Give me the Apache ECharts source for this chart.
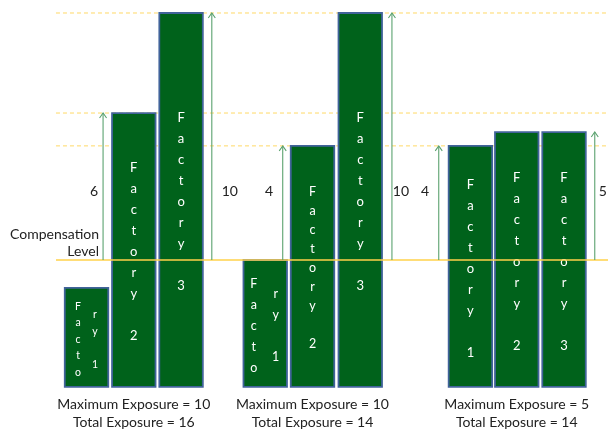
<!DOCTYPE html>
<html>
<head>
<meta charset="utf-8">
<script src="https://cdn.jsdelivr.net/npm/echarts@6/dist/echarts.min.js"></script>
<style>
  html, body { margin: 0; background: #fff; }
  #chart { width: 608px; height: 433px; }
</style>
</head>
<body>
<div id="chart"></div>
<script>
// bars: slot position, top level (relative to the compensation level), text columns
const barX = [1.0, 2.0, 3.0, 4.78, 5.78, 6.79, 9.12, 10.1, 11.1]
const barTop = [-1.13, 5.95, 10, 0, 4.62, 10, 4.62, 5.18, 5.18]
const barText = [
  ['Facto', 'ry 1'], ['Factory 2'], ['Factory 3'],
  ['Facto', 'ry 1'], ['Factory 2'], ['Factory 3'],
  ['Factory 1'], ['Factory 2'], ['Factory 3'],
]
const baseLevel = -5.14
const compLevel = 0

// exposure arrows (from the compensation level up)
const arrowX = [1.35, 3.65, 5.15, 7.46, 8.45, 11.75]
const arrowTop = [5.95, 10, 4.62, 10, 4.62, 5.18]
const arrowLabels = ['6', '10', '4', '10', '4', '5']
const arrowLabelX = [1.16, 4.03, 4.86, 7.65, 8.16, 11.92]

const levelLines = [10, 5.95, 4.62]

// group captions
const groupX = [2.0, 5.78, 10.1]
const maxExposure = [10, 10, 5]
const totalExposure = [16, 14, 14]

// layout / style bits (not data)
const FONT = 'Lato, "Open Sans", sans-serif'
const barFont = [10.5, 13, 13, 12.5, 12.5, 13, 13, 13, 13]
const barLine = [16.5, 21, 21, 21, 19, 21, 21, 21, 21]
const colOffset = { 0: [-8.5, 8.5], 3: [-11.5, 10.5] }
const lineStartX = 0.354
const lineEndX = 12.03
const arrowLabelY = 2.79
const captionY = -6.23
const compLabelX = 1.264

const chart = echarts.init(document.getElementById('chart'), null, { renderer: 'canvas' })

const letters = (s) => s.split('').map((c) => (c === ' ' ? '' : c)).join('\n')

chart.setOption({
  backgroundColor: '#fff',
  animation: false,
  grid: { left: 0, right: 0, top: 0, bottom: 0 },
  xAxis: { type: 'value', min: -0.83, max: 12.03, show: false },
  yAxis: { type: 'value', min: -7.004, max: 10.526, show: false },
  series: [
    // dashed level lines (behind bars)
    {
      type: 'custom', z: 1,
      data: levelLines.map((v) => [v]),
      renderItem: (params, api) => {
        const a = api.coord([lineStartX, api.value(0)])
        const b = api.coord([lineEndX, api.value(0)])
        return {
          type: 'line',
          shape: { x1: a[0], y1: a[1], x2: b[0], y2: b[1] },
          style: { stroke: '#FFD966', lineWidth: 1, lineDash: [4, 3] },
        }
      },
    },
    // bars
    {
      type: 'custom', z: 2,
      data: barX.map((x, i) => [x, barTop[i], i]),
      renderItem: (params, api) => {
        const i = api.value(2)
        const p0 = api.coord([api.value(0), baseLevel])
        const p1 = api.coord([api.value(0), api.value(1)])
        const w = api.size([0.92, 0])[0]
        const cy = (p0[1] + p1[1]) / 2 + 2
        const cols = barText[i]
        const offs = colOffset[i] || [0]
        const children = [{
          type: 'rect',
          shape: { x: p0[0] - w / 2, y: p1[1], width: w, height: p0[1] - p1[1] },
          style: { fill: '#00621B', stroke: '#41639A', lineWidth: 1.8 },
        }]
        cols.forEach((t, k) => {
          children.push({
            type: 'text',
            style: {
              text: letters(t), x: p0[0] + offs[k], y: cy,
              fill: '#FFFFFF', fontSize: barFont[i], fontFamily: FONT,
              lineHeight: barLine[i], align: 'center', verticalAlign: 'middle',
            },
          })
        })
        return { type: 'group', children }
      },
    },
    // compensation line (on top)
    {
      type: 'custom', z: 3,
      data: [[compLevel]],
      renderItem: (params, api) => {
        const a = api.coord([lineStartX, api.value(0)])
        const b = api.coord([lineEndX, api.value(0)])
        const c = api.coord([compLabelX, api.value(0)])
        return {
          type: 'group',
          children: [
            {
              type: 'line',
              shape: { x1: a[0], y1: a[1], x2: b[0], y2: b[1] },
              style: { stroke: '#FFD24A', lineWidth: 1.4 },
            },
            {
              type: 'text',
              style: {
                text: 'Compensation\nLevel', x: c[0], y: c[1] + 0.5,
                fill: '#222', fontSize: 14, fontFamily: FONT, lineHeight: 17.5,
                align: 'right', verticalAlign: 'bottom',
              },
            },
          ],
        }
      },
    },
    // arrows
    {
      type: 'custom', z: 3,
      data: arrowX.map((x, i) => [x, arrowTop[i], i]),
      renderItem: (params, api) => {
        const a = api.coord([api.value(0), compLevel])
        const b = api.coord([api.value(0), api.value(1)])
        const l = api.coord([arrowLabelX[api.value(2)], arrowLabelY])
        return {
          type: 'group',
          children: [
            {
              type: 'line',
              shape: { x1: b[0], y1: a[1], x2: b[0], y2: b[1] },
              style: { stroke: '#5BA26F', lineWidth: 1.1 },
            },
            {
              type: 'polyline',
              shape: { points: [[b[0] - 3.5, b[1] + 5], [b[0], b[1]], [b[0] + 3.5, b[1] + 5]] },
              style: { stroke: '#5BA26F', lineWidth: 1.1, fill: 'none' },
            },
            {
              type: 'text',
              style: {
                text: arrowLabels[api.value(2)], x: l[0], y: l[1],
                fill: '#222', fontSize: 14, fontFamily: FONT,
                align: 'center', verticalAlign: 'middle',
              },
            },
          ],
        }
      },
    },
    // group captions
    {
      type: 'custom', z: 3,
      data: groupX.map((x, i) => [x, i]),
      renderItem: (params, api) => {
        const i = api.value(1)
        const p = api.coord([api.value(0), captionY])
        return {
          type: 'text',
          style: {
            text: 'Maximum Exposure = ' + maxExposure[i] + '\nTotal Exposure = ' + totalExposure[i],
            x: p[0], y: p[1], fill: '#222', fontSize: 14, fontFamily: FONT,
            lineHeight: 18, align: 'center', verticalAlign: 'middle',
          },
        }
      },
    },
  ],
})
</script>
</body>
</html>
